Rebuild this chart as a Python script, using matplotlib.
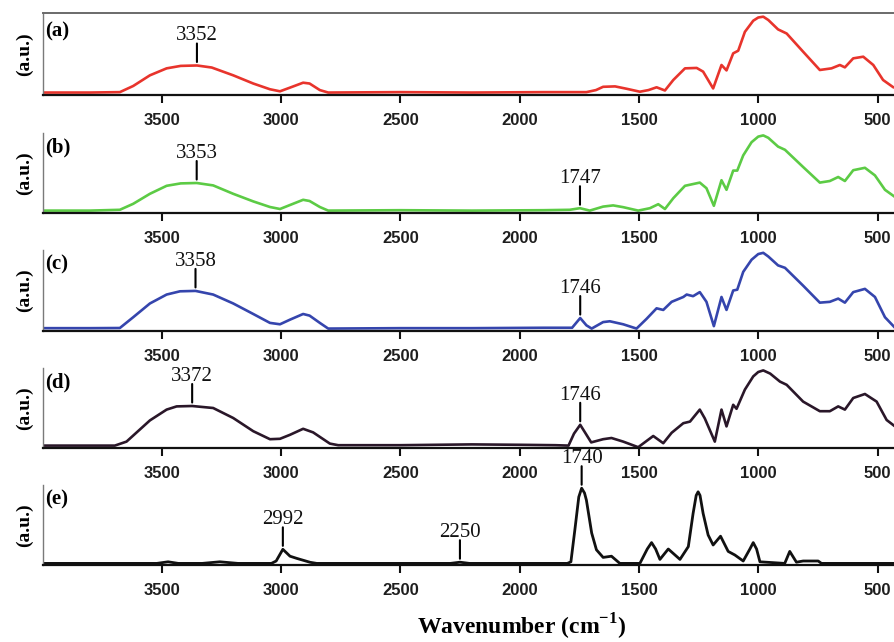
import numpy as np
import matplotlib
matplotlib.use("Agg")
import matplotlib.pyplot as plt

plt.rcParams['mathtext.fontset'] = 'custom'
plt.rcParams['mathtext.rm'] = 'Liberation Serif'
plt.rcParams['mathtext.bf'] = 'Liberation Serif:bold'

# ---- FTIR spectra (wavenumber in cm^-1, absorbance in a.u.) ----
wn_a = [3997, 3800, 3675, 3619, 3549, 3479, 3420, 3352, 3290, 3200, 3116, 3046, 3004, 2962, 2907,
        2880, 2837, 2802, 2500, 2200, 1900, 1720, 1680, 1650, 1600, 1550, 1496, 1460, 1426, 1391,
        1356, 1307, 1258, 1231, 1189, 1154, 1133, 1105, 1084, 1056, 1021, 1000, 979, 958, 917, 881,
        812, 742, 693, 658, 637, 602, 560, 518, 477, 434, 427]
abs_a = [0.03, 0.03, 0.035, 0.11, 0.24, 0.325, 0.355, 0.36, 0.335, 0.24, 0.14, 0.07, 0.045, 0.09, 0.15,
         0.14, 0.06, 0.03, 0.035, 0.03, 0.035, 0.035, 0.06, 0.10, 0.105, 0.075, 0.04, 0.06, 0.094, 0.055,
         0.183, 0.325, 0.33, 0.285, 0.08, 0.366, 0.30, 0.508, 0.54, 0.77, 0.906, 0.945, 0.955, 0.915, 0.80, 0.75,
         0.528, 0.305, 0.325, 0.366, 0.337, 0.447, 0.467, 0.366, 0.183, 0.094, 0.09]

wn_b = [3997, 3800, 3675, 3619, 3549, 3479, 3420, 3353, 3284, 3200, 3116, 3046, 3004, 2962, 2907,
        2880, 2837, 2802, 2500, 2200, 1900, 1790, 1747, 1706, 1650, 1608, 1566, 1503, 1454, 1419,
        1391, 1356, 1307, 1245, 1217, 1186, 1154, 1133, 1105, 1088, 1063, 1028, 1000, 979, 958, 917,
        888, 812, 742, 700, 665, 637, 602, 553, 511, 469, 427]
abs_b = [0.03, 0.03, 0.04, 0.115, 0.24, 0.34, 0.37, 0.375, 0.345, 0.24, 0.145, 0.075, 0.05, 0.10, 0.165,
         0.15, 0.075, 0.03, 0.035, 0.03, 0.035, 0.04, 0.06, 0.03, 0.08, 0.095, 0.073, 0.03, 0.06, 0.11,
         0.05, 0.185, 0.34, 0.38, 0.31, 0.09, 0.41, 0.29, 0.53, 0.53, 0.72, 0.885, 0.955, 0.97, 0.94, 0.83,
         0.79, 0.575, 0.38, 0.40, 0.45, 0.40, 0.535, 0.565, 0.47, 0.29, 0.20]

wn_c = [3997, 3800, 3675, 3619, 3549, 3479, 3423, 3358, 3284, 3200, 3116, 3046, 3004, 2962, 2907,
        2880, 2837, 2802, 2500, 2200, 1900, 1780, 1746, 1720, 1698, 1650, 1622, 1566, 1510, 1468,
        1426, 1398, 1363, 1314, 1300, 1273, 1245, 1217, 1186, 1154, 1133, 1105, 1088, 1063, 1028,
        1000, 979, 958, 917, 888, 812, 742, 700, 665, 637, 602, 553, 511, 469, 427]
abs_c = [0.035, 0.035, 0.037, 0.17, 0.34, 0.45, 0.49, 0.495, 0.45, 0.34, 0.21, 0.10, 0.083, 0.14, 0.21,
         0.19, 0.10, 0.03, 0.035, 0.035, 0.04, 0.04, 0.16, 0.07, 0.03, 0.11, 0.12, 0.083, 0.03, 0.15,
         0.28, 0.26, 0.36, 0.42, 0.45, 0.43, 0.48, 0.36, 0.06, 0.42, 0.26, 0.50, 0.51, 0.73, 0.88,
         0.95, 0.965, 0.92, 0.81, 0.78, 0.56, 0.35, 0.36, 0.40, 0.35, 0.48, 0.52, 0.42, 0.17, 0.04]

wn_d = [3997, 3800, 3696, 3647, 3549, 3479, 3437, 3372, 3284, 3200, 3116, 3046, 3004, 2962, 2907,
        2865, 2795, 2760, 2500, 2200, 2000, 1850, 1795, 1772, 1746, 1725, 1700, 1650, 1615, 1566,
        1503, 1440, 1398, 1363, 1314, 1286, 1245, 1224, 1182, 1154, 1133, 1105, 1091, 1056, 1021,
        1000, 979, 950, 909, 881, 812, 742, 700, 665, 637, 602, 553, 504, 462, 427]
abs_d = [0.03, 0.03, 0.03, 0.08, 0.345, 0.48, 0.52, 0.525, 0.50, 0.375, 0.21, 0.11, 0.115, 0.165, 0.24,
         0.195, 0.055, 0.035, 0.035, 0.045, 0.04, 0.035, 0.03, 0.18, 0.29, 0.19, 0.07, 0.11, 0.125, 0.08,
         0.01, 0.15, 0.06, 0.19, 0.31, 0.33, 0.48, 0.37, 0.08, 0.48, 0.27, 0.54, 0.49, 0.73, 0.895,
         0.95, 0.97, 0.93, 0.83, 0.79, 0.58, 0.46, 0.46, 0.52, 0.48, 0.625, 0.675, 0.58, 0.35, 0.27]

wn_e = [3997, 3700, 3520, 3473, 3430, 3330, 3256, 3180, 3040, 3020, 2992, 2962, 2934, 2878, 2850,
        2290, 2250, 2210, 1800, 1785, 1768, 1752, 1740, 1728, 1720, 1698, 1678, 1650, 1615, 1580,
        1496, 1465, 1447, 1430, 1412, 1377, 1328, 1293, 1273, 1260, 1252, 1244, 1231, 1210, 1189,
        1158, 1126, 1098, 1063, 1035, 1021, 1007, 993, 889, 868, 840, 812, 749, 735, 427]
abs_e = [0.02, 0.02, 0.02, 0.04, 0.02, 0.02, 0.04, 0.02, 0.02, 0.05, 0.196, 0.11, 0.083, 0.034, 0.02,
         0.02, 0.035, 0.02, 0.02, 0.04, 0.45, 0.85, 0.96, 0.90, 0.81, 0.40, 0.19, 0.095, 0.11, 0.02,
         0.02, 0.20, 0.28, 0.20, 0.07, 0.20, 0.07, 0.23, 0.645, 0.87, 0.915, 0.87, 0.645, 0.375, 0.25,
         0.36, 0.17, 0.125, 0.05, 0.20, 0.28, 0.20, 0.04, 0.02, 0.17, 0.035, 0.05, 0.05, 0.02, 0.02]

panel_tags = ['(a)', '(b)', '(c)', '(d)', '(e)']
peak_marks = [[3352], [3353, 1747], [3358, 1746], [3372, 1746], [2992, 2250, 1740]]
line_colors = ['#e8342c', '#5ccb45', '#3545ad', '#2a1729', '#111111']
spectra = [(wn_a, abs_a), (wn_b, abs_b), (wn_c, abs_c), (wn_d, abs_d), (wn_e, abs_e)]
tick_values = [3500, 3000, 2500, 2000, 1500, 1000, 500]

# ---- layout (pixels) ----
W, H = 895, 642
fig = plt.figure(figsize=(W / 100, H / 100), dpi=100)
left_px = 43
boxes = [(13, 95), (133, 213), (250, 331), (368, 448), (485, 565)]
tag_offset = [18, 14, 14, 14, 14]

for i, ((wn, ab), tag, marks, col) in enumerate(zip(spectra, panel_tags, peak_marks, line_colors)):
    top, bot = boxes[i]
    h = bot - top
    ax = fig.add_axes([left_px / W, 1 - bot / H, 1 - left_px / W, h / H])
    ax.plot(wn, ab, color=col, lw=2.0 if i == 4 else 1.9,
            solid_joinstyle='round', solid_capstyle='round')
    ax.set_xlim(3997, 427)
    ax.set_ylim(0, 1)
    ax.set_yticks([])
    ax.set_xticks(tick_values)
    ax.set_xticklabels([str(t) for t in tick_values])
    ax.tick_params(axis='x', direction='out', length=6, width=1.5, pad=7,
                   color='#111111', labelcolor='#1e1e1e')
    for lab in ax.get_xticklabels():
        lab.set_fontfamily('Liberation Sans')
        lab.set_fontweight('bold')
        lab.set_fontsize(12)
    ax.spines['right'].set_visible(False)
    ax.spines['bottom'].set_color('#111111')
    ax.spines['bottom'].set_linewidth(1.6)
    ax.spines['left'].set_color('#7a7a7a')
    ax.spines['left'].set_linewidth(1.0)
    if i == 0:
        ax.spines['top'].set_color('#6a6a6a')
        ax.spines['top'].set_linewidth(1.4)
    else:
        ax.spines['top'].set_visible(False)

    ax.text(0.003, 1 - tag_offset[i] / h, tag, transform=ax.transAxes,
            family='Liberation Serif', weight='bold', size=15, ha='left', va='center')
    fig.text(24 / W, 1 - (top + bot) / 2 / H, '(a.u.)', rotation=90,
             family='Liberation Serif', weight='bold', size=14, ha='center', va='center')

    wn_arr = np.array(wn)[::-1]
    ab_arr = np.array(ab)[::-1]
    for m in marks:
        yv = float(np.interp(m, wn_arr, ab_arr))
        ax.annotate('', xy=(m, yv), xycoords='data', xytext=(0, 22), textcoords='offset pixels',
                    arrowprops=dict(arrowstyle='-', lw=1.5, color='black', shrinkA=0, shrinkB=2.5),
                    annotation_clip=False)
        ax.annotate(str(m), xy=(m, yv), xycoords='data', xytext=(0, 25), textcoords='offset pixels',
                    ha='center', va='baseline', family='Liberation Serif', size=15,
                    color='#111111', annotation_clip=False)

fig.text(522 / W, 1 - 627 / H, r'Wavenumber (cm$^{\mathbf{-1}}$)', family='Liberation Serif',
         weight='bold', size=17, ha='center', va='center')

fig.savefig('out.png', dpi=100, facecolor='white')
